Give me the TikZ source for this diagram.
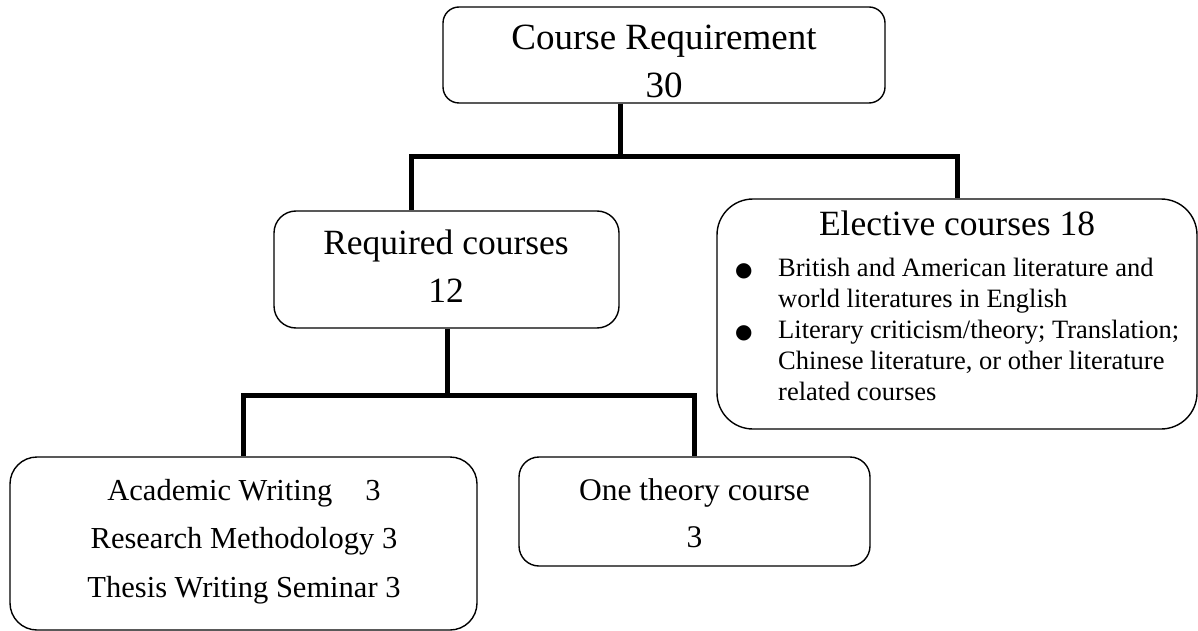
\documentclass[tikz,border=0pt]{standalone}
\usepackage{fontspec}
\setmainfont{Liberation Serif}
\newfontfamily\dotfont{DejaVu Sans}
\newcommand{\itemdot}{\makebox[43pt][l]{\dotfont\fontsize{20}{20}\selectfont ●}}
\newcommand{\itemgap}{\hspace*{43pt}}

\begin{document}
\begin{tikzpicture}[x=1pt, y=-1pt,
    box/.style={draw, line width=1.4pt, inner sep=0pt},
    link/.style={line width=5pt},
    boxtext/.style={inner sep=0pt, anchor=base, align=center}]
    \useasboundingbox (0,0) rectangle (1198,631);
    % boxes
    \node[box, rounded corners=16pt, minimum width=442pt, minimum height=96pt] (total) at (664,55) {};
    \node[box, rounded corners=22pt, minimum width=345pt, minimum height=117pt] (required) at (446.5,269.5) {};
    \node[box, rounded corners=36pt, minimum width=480pt, minimum height=230pt] (elective) at (957,314) {};
    \node[box, rounded corners=27pt, minimum width=467pt, minimum height=173pt] (core) at (243.5,543.5) {};
    \node[box, rounded corners=20pt, minimum width=351pt, minimum height=109pt] (theory) at (694.5,511.5) {};
    % texts (base = last line)
    \node[boxtext, font=\fontsize{37}{48}\selectfont] (totalText) at (664,98) {Course Requirement\\30};
    \node[boxtext, font=\fontsize{35.5}{48}\selectfont] (requiredText) at (446,302) {Required courses\\12};
    \node[boxtext, font=\fontsize{35.5}{48}\selectfont] (electiveHead) at (957,235) {Elective courses 18};
    \node[boxtext, anchor=base west, align=left, font=\fontsize{26.5}{30.8}\selectfont] (electiveList) at (735,400)
        {\itemdot British and American literature and\\
         \itemgap world literatures in English\\
         \itemdot Literary criticism/theory; Translation;\\
         \itemgap Chinese literature, or other literature\\
         \itemgap related courses};
    \node[boxtext, font=\fontsize{30.5}{48.5}\selectfont] (coreText) at (244,597)
        {Academic Writing\hspace{33pt}3\\Research Methodology 3\\Thesis Writing Seminar 3};
    \node[boxtext, font=\fontsize{31.5}{47}\selectfont] (theoryText) at (694.5,547) {One theory course\\3};
    % connectors
    \coordinate (fork) at (620,157);
    \coordinate (leftDrop) at (411,157);
    \draw[link] (total.south -| fork) -- (fork);
    \draw[link] (required.north -| leftDrop) -- (leftDrop) -- (leftDrop -| elective.north) -- (elective.north);
    \coordinate (fork2) at (447,395);
    \draw[link] (required.south -| fork2) -- (fork2);
    \draw[link] (core.north) -- (core.north |- fork2) -- (fork2 -| theory.north) -- (theory.north);
\end{tikzpicture}
\end{document}
